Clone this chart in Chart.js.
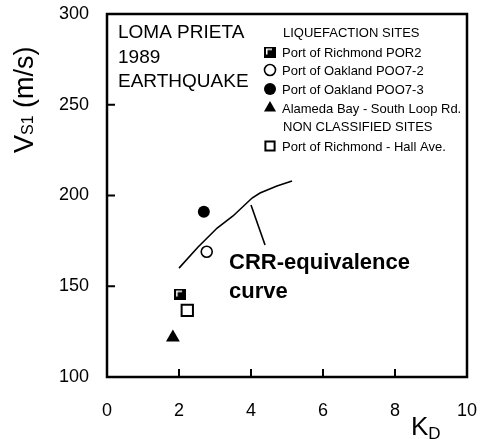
<!DOCTYPE html>
<html lang="en">
<head>
<meta charset="UTF-8" />
<title>Loma Prieta 1989 - Vs1 vs KD</title>
<style>
  html, body { margin: 0; padding: 0; background: #fff; }
  #wrap { width: 480px; height: 439px; }
</style>
<script src="https://cdn.jsdelivr.net/npm/chart.js"></script>
</head>
<body>
<div id="wrap"><canvas id="chart" width="480" height="439"></canvas></div>
<script>
  // data
  const siteNames = [
    "Port of Richmond POR2",
    "Port of Oakland POO7-2",
    "Port of Oakland POO7-3",
    "Alameda Bay - South Loop Rd.",
    "Port of Richmond - Hall Ave."
  ];
  const siteKd = [2.03, 2.77, 2.69, 1.83, 2.23];
  const siteVs = [145.7, 169, 191.1, 121.7, 136.7];

  const curveKd = [2.0, 2.53, 3.06, 3.5, 4.03, 4.25, 4.72, 5.14];
  const curveVs = [160, 171.6, 182.1, 188.7, 198.6, 201.4, 205.2, 208];

  const leaderKd = [4.0, 4.39];
  const leaderVs = [194.8, 172.7];

  const xTicks = [0, 2, 4, 6, 8, 10];
  const yTicks = [100, 150, 200, 250, 300];

  const FONT = 'Arial, "Liberation Sans", sans-serif';

  // half-filled square used for POR2
  function halfSquare() {
    const c = document.createElement("canvas");
    c.width = 12; c.height = 11;
    const g = c.getContext("2d");
    g.fillStyle = "#000";
    g.fillRect(0, 0, 12, 11);
    g.fillStyle = "#fff";
    g.fillRect(2, 2, 6, 1.5);
    g.fillRect(2, 2, 1.5, 6);
    return c;
  }

  const siteStyles = [
    { pointStyle: halfSquare(), radius: 6, bg: "#000", border: "#000", bw: 0 },
    { pointStyle: "circle", radius: 5.5, bg: "#fff", border: "#000", bw: 1.6 },
    { pointStyle: "circle", radius: 6, bg: "#000", border: "#000", bw: 0 },
    { pointStyle: "triangle", radius: 8, bg: "#000", border: "#000", bw: 0 },
    { pointStyle: "rect", radius: 8, bg: "#fff", border: "#000", bw: 2 }
  ];

  const datasets = siteNames.map((name, i) => ({
    label: name,
    data: [{ x: siteKd[i], y: siteVs[i] }],
    pointStyle: siteStyles[i].pointStyle,
    pointRadius: siteStyles[i].radius,
    backgroundColor: siteStyles[i].bg,
    borderColor: siteStyles[i].border,
    borderWidth: siteStyles[i].bw,
    showLine: false
  }));

  datasets.push({
    label: "CRR-equivalence curve",
    data: curveKd.map((k, i) => ({ x: k, y: curveVs[i] })),
    showLine: true,
    borderColor: "#000",
    borderWidth: 1.6,
    pointRadius: 0,
    tension: 0
  });
  datasets.push({
    label: "leader",
    data: leaderKd.map((k, i) => ({ x: k, y: leaderVs[i] })),
    showLine: true,
    borderColor: "#000",
    borderWidth: 1.6,
    pointRadius: 0
  });

  const decor = {
    id: "decor",
    afterDraw(chart) {
      const { ctx, chartArea: a, scales } = chart;
      const xs = scales.x, ys = scales.y;
      ctx.save();
      ctx.strokeStyle = "#000";

      // frame
      ctx.lineWidth = 2.5;
      ctx.strokeRect(a.left, a.top, a.right - a.left, a.bottom - a.top);

      // inward ticks
      ctx.lineWidth = 2;
      ctx.beginPath();
      xTicks.slice(1, -1).forEach(v => {
        const px = xs.getPixelForValue(v);
        ctx.moveTo(px, a.bottom);
        ctx.lineTo(px, a.bottom - 8);
      });
      yTicks.slice(1, -1).forEach(v => {
        const py = ys.getPixelForValue(v);
        ctx.moveTo(a.left, py);
        ctx.lineTo(a.left + 8, py);
      });
      ctx.stroke();

      ctx.fillStyle = "#000";
      ctx.textBaseline = "middle";
      ctx.textAlign = "left";

      // event label
      ctx.font = "19px " + FONT;
      ["LOMA PRIETA", "1989", "EARTHQUAKE"].forEach((t, i) => {
        ctx.fillText(t, a.left + 11, a.top + 19 + i * 24.5);
      });

      // legend
      const rows = [
        { head: "LIQUEFACTION SITES" },
        { site: 0 }, { site: 1 }, { site: 2 }, { site: 3 },
        { head: "NON CLASSIFIED SITES" },
        { site: 4 }
      ];
      const rowY = [33, 52, 70, 89, 108, 127, 146];
      ctx.font = "13px " + FONT;
      rows.forEach((r, i) => {
        const y = rowY[i];
        if (r.head) {
          ctx.fillText(r.head, 283, y);
        } else {
          const s = siteStyles[r.site];
          ctx.fillStyle = s.bg;
          ctx.strokeStyle = s.border;
          ctx.lineWidth = s.bw;
          Chart.helpers.drawPoint(ctx, {
            pointStyle: s.pointStyle,
            radius: s.pointStyle === "triangle" ? 7 : Math.min(s.radius, 6.5),
            rotation: 0,
            borderWidth: s.bw
          }, 270, y);
          ctx.fillStyle = "#000";
          ctx.fillText(siteNames[r.site], 282, y + 1);
        }
      });

      // curve annotation
      ctx.font = "bold 22px " + FONT;
      const lx = xs.getPixelForValue(3.39);
      ctx.fillText("CRR-equivalence", lx, ys.getPixelForValue(162.8));
      ctx.fillText("curve", lx, ys.getPixelForValue(146.8));

      // y title V_S1 (m/s)
      ctx.save();
      ctx.translate(33, 153);
      ctx.rotate(-Math.PI / 2);
      ctx.textBaseline = "alphabetic";
      ctx.font = "27px " + FONT;
      ctx.fillText("V", 0, 0);
      let w = ctx.measureText("V").width;
      ctx.font = "16px " + FONT;
      ctx.fillText("S1", w, 0);
      w += ctx.measureText("S1").width;
      ctx.font = "27px " + FONT;
      ctx.fillText(" (m/s)", w, 0);
      ctx.restore();

      // x title K_D
      ctx.textBaseline = "alphabetic";
      ctx.font = "26px " + FONT;
      ctx.fillText("K", 411, 435);
      const kw = ctx.measureText("K").width;
      ctx.font = "17px " + FONT;
      ctx.fillText("D", 411 + kw, 439);

      ctx.restore();
    }
  };

  new Chart(document.getElementById("chart"), {
    type: "scatter",
    data: { datasets },
    options: {
      responsive: false,
      animation: false,
      layout: { padding: { top: 14, right: 13, left: 0, bottom: 0 } },
      plugins: {
        legend: { display: false },
        tooltip: { enabled: false }
      },
      scales: {
        x: {
          type: "linear",
          min: 0,
          max: 10,
          afterBuildTicks: s => { s.ticks = xTicks.map(v => ({ value: v })); },
          afterFit: s => {
            s.height = 62;
            s.paddingLeft = 0;
            s.paddingRight = 0;
          },
          grid: { display: false, drawTicks: false },
          border: { display: false },
          ticks: {
            color: "#000",
            padding: 23,
            font: { family: FONT, size: 18 },
            maxRotation: 0
          }
        },
        y: {
          type: "linear",
          min: 100,
          max: 300,
          afterBuildTicks: s => { s.ticks = yTicks.map(v => ({ value: v })); },
          afterFit: s => {
            s.width = 107;
            s.paddingTop = 0;
            s.paddingBottom = 0;
          },
          grid: { display: false, drawTicks: false },
          border: { display: false },
          ticks: {
            color: "#000",
            padding: 18,
            font: { family: FONT, size: 18 }
          }
        }
      }
    },
    plugins: [decor]
  });
</script>
</body>
</html>
